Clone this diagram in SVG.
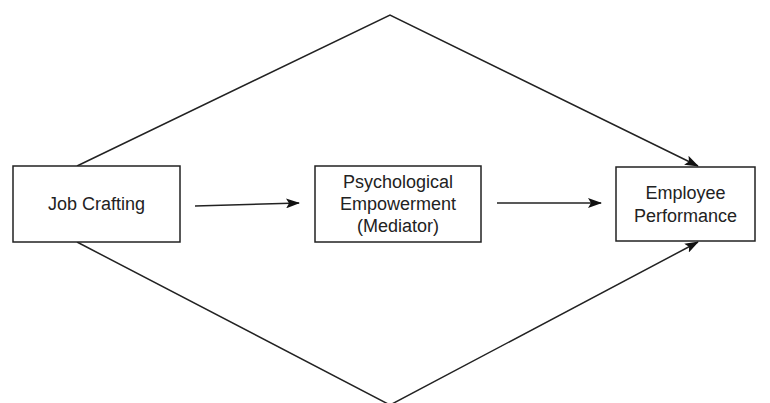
<svg xmlns="http://www.w3.org/2000/svg" width="770" height="403" viewBox="0 0 770 403">
<style>
.box{fill:#fff;stroke:#222;stroke-width:1.5}
.lbl{font-family:"Liberation Sans",Arial,sans-serif;font-size:18px;fill:#222;text-anchor:middle}
.ln{fill:none;stroke:#222;stroke-width:1.5}
</style>
<defs>
<marker id="ah" markerWidth="14" markerHeight="10" refX="13" refY="5" orient="auto" markerUnits="userSpaceOnUse">
<path d="M0,0 L14,5 L0,10 L3,5 Z" fill="#111"/>
</marker>
</defs>
<rect width="770" height="403" fill="#fff"/>
<g id="connectors">
<polyline class="ln" points="77,166 390,15 698,166" marker-end="url(#ah)"/>
<polyline class="ln" points="77,242 390,405 698,242" marker-end="url(#ah)"/>
<line class="ln" x1="195" y1="206" x2="299" y2="203" marker-end="url(#ah)"/>
<line class="ln" x1="497" y1="203" x2="601" y2="203" marker-end="url(#ah)"/>
</g>
<g id="job-crafting">
<rect class="box" x="13" y="166" width="167" height="76"/>
<text class="lbl" x="96.5" y="210">Job Crafting</text>
</g>
<g id="psych-empowerment">
<rect class="box" x="315" y="166" width="166" height="76"/>
<text class="lbl" x="398" y="188">Psychological</text>
<text class="lbl" x="398" y="210">Empowerment</text>
<text class="lbl" x="398" y="232">(Mediator)</text>
</g>
<g id="employee-performance">
<rect class="box" x="616" y="167" width="139" height="74"/>
<text class="lbl" x="685.5" y="199">Employee</text>
<text class="lbl" x="685.5" y="222">Performance</text>
</g>
</svg>
